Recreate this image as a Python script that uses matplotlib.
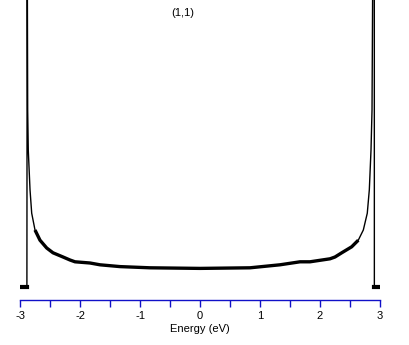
import matplotlib
matplotlib.use('Agg')
from matplotlib import pyplot as plt

plt.rcParams['font.family'] = ['Liberation Sans', 'DejaVu Sans']
plt.rcParams['axes.unicode_minus'] = False

# 能量 (eV) 与态密度 (任意单位)
energy = [-3.0, -2.885, -2.88, -2.872, -2.862, -2.833, -2.805, -2.75, -2.667,
          -2.555, -2.45, -2.283, -2.167, -2.083, -1.833, -1.667, -1.333,
          -0.833, 0.0, 0.833, 1.333, 1.667, 1.833, 2.167, 2.25, 2.362,
          2.528, 2.638, 2.722, 2.788, 2.822, 2.85, 2.867, 2.883, 2.905,
          2.906, 3.0]
dos = [0.0, 0.0, 6.0, 2.95, 2.28, 1.62, 1.23, 0.95, 0.78,
       0.65, 0.57, 0.50, 0.45, 0.42, 0.40, 0.37, 0.34,
       0.32, 0.31, 0.32, 0.37, 0.42, 0.42, 0.47, 0.50, 0.57,
       0.67, 0.78, 0.95, 1.23, 1.62, 2.28, 2.95, 6.0, 6.0,
       0.0, 0.0]

title = '(1,1)'
xticks = [-3, -2, -1, 0, 1, 2, 3]
blue = '#1010C8'

fig = plt.figure(figsize=(4.09, 3.45), dpi=100)
ax = fig.add_axes([20 / 409, 45 / 345, 360 / 409, 300 / 345])

ax.plot(energy, dos, color='black', lw=1.0)
# 中间部分的曲线比较粗（噪声）
ax.plot(energy[7:-9], dos[7:-9], color='black', lw=2.4, solid_capstyle='butt')
# 两端的零值段
ax.plot(energy[:2], dos[:2], color='black', lw=3)
ax.plot(energy[-2:], dos[-2:], color='black', lw=3)

ax.set_xlim(-3, 3)
ax.set_ylim(-13 / 60, 287 / 60)

for s in ['top', 'left', 'right']:
    ax.spines[s].set_visible(False)
ax.spines['bottom'].set_color(blue)
ax.spines['bottom'].set_linewidth(1.0)
ax.set_yticks([])
ax.set_xticks(xticks)
ax.set_xticks([-2.5, -1.5, -0.5, 0.5, 1.5, 2.5], minor=True)
ax.tick_params(axis='x', which='both', direction='out', length=5, width=1,
               color=blue, labelsize=8, pad=3)
ax.set_xlabel('Energy (eV)', fontsize=8, labelpad=2)

fig.text(183 / 409, 1 - 13 / 345, title, ha='center', va='center', fontsize=8)

plt.savefig('out.png', dpi=100)
